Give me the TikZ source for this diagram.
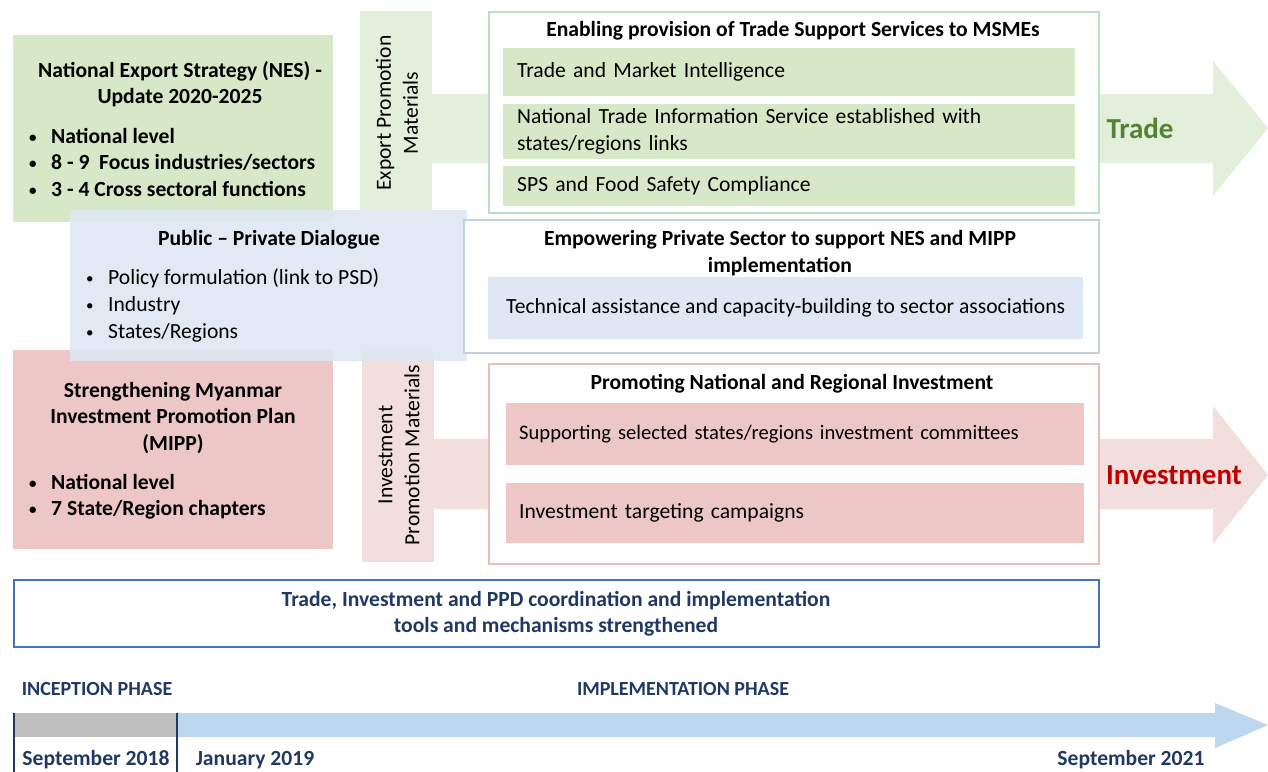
\documentclass[tikz,border=0pt]{standalone}
\usepackage{fontspec}
\setmainfont{Carlito}
\usepackage{xcolor}
\usetikzlibrary{positioning}
\definecolor{colVerde}{HTML}{D6E8C8}
\definecolor{colVerdeClaro}{HTML}{E2EFDA}
\definecolor{colVerdeBorde}{HTML}{B9E0C6}
\definecolor{colVerdeTexto}{HTML}{548235}
\definecolor{colRosa}{HTML}{ECC7C6}
\definecolor{colRosaClaro}{HTML}{F2DEDD}
\definecolor{colRosaBorde}{HTML}{E8BCBB}
\definecolor{colRojoTexto}{HTML}{C00000}
\definecolor{colAzul}{HTML}{DEE7F3}
\definecolor{colAzulBorde}{HTML}{C3D0E0}
\definecolor{colAzulLinea}{HTML}{4472C4}
\definecolor{colMarino}{HTML}{1F3864}
\definecolor{colGris}{HTML}{BFBFBF}
\definecolor{colFlecha}{HTML}{BDD7EE}
% small bullet, then the item text
\newcommand{\bala}[1]{\makebox[22pt][l]{\raisebox{1pt}{\fontsize{15}{15}\selectfont\textbullet}}#1}

\begin{document}
\begin{tikzpicture}[
  x=1pt, y=-1pt,
  font=\fontsize{21.6}{27}\selectfont,
  node distance=7pt,
  block/.style={rectangle, inner sep=0pt, anchor=north west},
  outline/.style={block, fill=white, line width=2pt},
  bar/.style={block, inner xsep=14pt, text width=544pt, align=left},
  label/.style={inner sep=0pt, align=center, font=\fontsize{21.6}{26.5}\selectfont\bfseries},
  list/.style={inner sep=0pt, align=left, anchor=west},
  phase/.style={inner sep=0pt, anchor=base, text=colMarino, font=\fontsize{20}{20}\selectfont\bfseries},
  date/.style={phase, font=\fontsize{21.6}{22}\selectfont\bfseries}
]
  \useasboundingbox (0,0) rectangle (1268,771);

  % NES
  \node[block, fill=colVerde, minimum width=320pt, minimum height=187pt] (nes) at (13,35) {};
  \node[label] (nestitle) at (180,84) {National Export Strategy (NES) -\\Update 2020-2025};
  \node[list, font=\fontsize{21.6}{26.5}\selectfont\bfseries] (neslist) at (29,162)
    {\bala{National level}\\\bala{8 - 9\ \ Focus industries/sectors}\\\bala{3 - 4 Cross sectoral functions}};

  % Export promotion materials
  \node[block, fill=colVerdeClaro, minimum width=72pt, minimum height=199pt] (expmat) at (360,11) {};
  \node[rotate=90, align=center, inner sep=0pt] (exptext) at (397,113) {Export Promotion\\Materials};
  \fill[colVerdeClaro] (432,94) -- (1213,94) -- (1213,61) -- (1268,128)
    -- (1213,196) -- (1213,163) -- (432,163) -- cycle;

  % Trade support services
  \node[outline, draw=colVerdeBorde, minimum width=610pt, minimum height=201pt] (trade) at (488,11) {};
  \node[label] (tradetitle) at (793,31) {Enabling provision of Trade Support Services to MSMEs};
  \node[bar, fill=colVerde, minimum height=48pt] (tmi) at (503,48) {Trade and Market Intelligence};
  \node[bar, fill=colVerde, minimum height=55pt, below=of tmi.south west, anchor=north west] (ntis)
    {National Trade Information Service established with\\states/regions links};
  \node[bar, fill=colVerde, minimum height=40pt, below=of ntis.south west, anchor=north west] (sps)
    {SPS and Food Safety Compliance};
  \node[font=\fontsize{29}{30}\selectfont\bfseries, text=colVerdeTexto, inner sep=0pt] (tradelbl) at (1140,128) {Trade};

  % MIPP
  \node[block, fill=colRosa, minimum width=320pt, minimum height=199pt] (mipp) at (13,350) {};
  \node[label] (mipptitle) at (173,418) {Strengthening Myanmar\\Investment Promotion Plan\\(MIPP)};
  \node[list, font=\fontsize{21.6}{26.5}\selectfont\bfseries] (mipplist) at (29,496.5)
    {\bala{National level}\\\bala{7 State/Region chapters}};

  % Investment promotion materials
  \node[block, fill=colRosaClaro, minimum width=72pt, minimum height=211pt] (invmat) at (362,351) {};
  \node[rotate=90, align=center, inner sep=0pt] (invtext) at (399,455) {Investment\\Promotion Materials};
  \fill[colRosaClaro] (434,439) -- (1213,439) -- (1213,406) -- (1268,475)
    -- (1213,544) -- (1213,509) -- (434,509) -- cycle;

  % Investment promotion
  \node[outline, draw=colRosaBorde, minimum width=610pt, minimum height=200pt] (invest) at (488,363) {};
  \node[label] (investtitle) at (792,384) {Promoting National and Regional Investment};
  \node[bar, fill=colRosa, text width=552pt, inner xsep=13pt, minimum height=62pt,
    font=\fontsize{20.6}{27}\selectfont] (committees) at (506,403)
    {Supporting selected states/regions investment committees};
  \node[bar, fill=colRosa, text width=552pt, inner xsep=13pt, minimum height=60pt,
    below=17pt of committees.south west, anchor=north west] (campaigns) {Investment targeting campaigns};
  \node[font=\fontsize{29}{30}\selectfont\bfseries, text=colRojoTexto, inner sep=0pt] (investlbl) at (1174,475) {Investment};

  % Public-private dialogue
  \node[block, fill=colAzul, fill opacity=0.9, minimum width=397pt, minimum height=151pt] (ppd) at (70,210) {};
  \node[label] (ppdtitle) at (269,240) {Public -- Private Dialogue};
  \node[list] (ppdlist) at (86,305)
    {\bala{Policy formulation (link to PSD)}\\\bala{Industry}\\\bala{States/Regions}};

  % Empowering private sector
  \node[block, draw=colAzulBorde, fill=white!97!colAzul, line width=2pt, minimum width=635pt, minimum height=133pt] (empower) at (463,219) {};
  \node[label] (empowertitle) at (780,253) {Empowering Private Sector to support NES and MIPP\\implementation};
  \node[block, fill=colAzul, minimum width=595pt, minimum height=62pt] (techassist) at (488,277)
    {Technical assistance and capacity-building to sector associations};

  % Coordination
  \node[block, draw=colAzulLinea, line width=1.5pt, fill=white, minimum width=1085pt, minimum height=67pt] (coord) at (13,579) {};
  \node[label, text=colMarino] (coordtext) at (556,613.5)
    {Trade, Investment and PPD coordination and implementation\\tools and mechanisms strengthened};

  % Timeline
  \fill[colGris] (13,713) rectangle (177,737);
  \fill[colFlecha] (177,713) -- (1215,713) -- (1215,703) -- (1268,725)
    -- (1215,748) -- (1215,737) -- (177,737) -- cycle;
  \draw[colMarino, line width=2pt] (14,713) -- (14,775);
  \draw[colMarino, line width=2pt] (177,713) -- (177,775);
  \node[phase] (inception) at (97,695) {INCEPTION PHASE};
  \node[phase] (implementation) at (683,695) {IMPLEMENTATION PHASE};
  \node[date] (sep18) at (96,765.5) {September 2018};
  \node[date] (jan19) at (255,765.5) {January 2019};
  \node[date] (sep21) at (1131,765.5) {September 2021};

\end{tikzpicture}
\end{document}
